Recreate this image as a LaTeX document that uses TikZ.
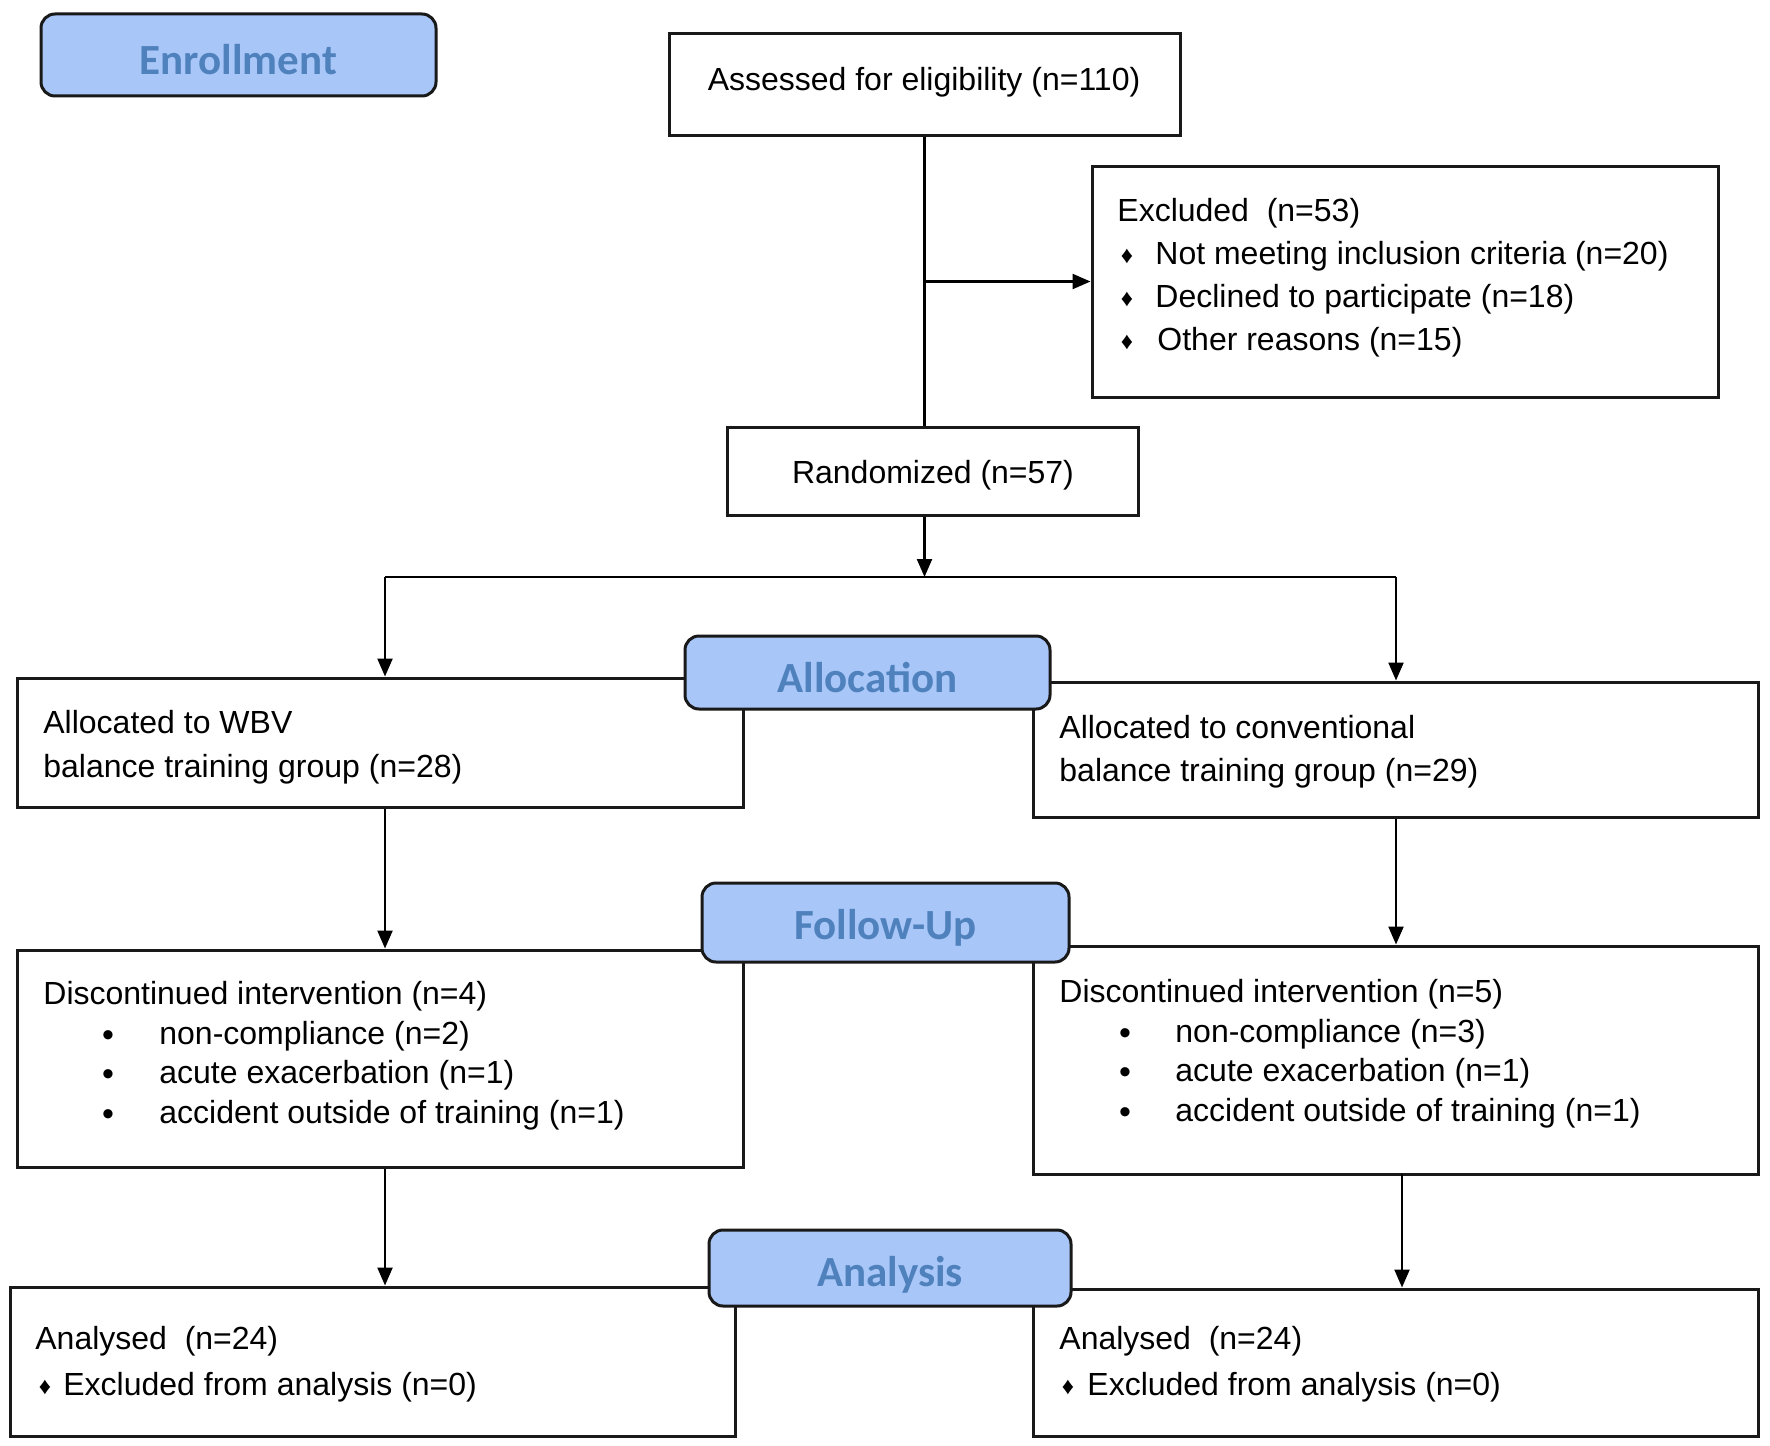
\documentclass[tikz,border=0pt]{standalone}
\usepackage{fontspec}
\setmainfont{Liberation Sans}
\newfontfamily\hdrfont{Carlito}
\usetikzlibrary{arrows.meta,fit}
\definecolor{hdrfill}{RGB}{168,198,248}
\definecolor{hdrtext}{RGB}{79,129,189}
\begin{document}
\begin{tikzpicture}[x=0.5pt,y=-0.5pt,
  box/.style={draw=black!90, line width=1.5pt, inner sep=0pt, fill=white},
  hdr/.style={draw=black!90, line width=1.5pt, inner sep=0pt, fill=hdrfill, rounded corners=7pt},
  hdrlbl/.style={inner sep=0pt, anchor=center, font=\hdrfont\bfseries\fontsize{21.5}{24}\selectfont, text=hdrtext},
  txt/.style={inner sep=0pt, anchor=west, font=\fontsize{16}{19}\selectfont, text height=0.72em, text depth=0.2em},
  ctxt/.style={txt, anchor=center},
  dia/.style={inner sep=0pt, anchor=center, font=\fontsize{12}{14}\selectfont},
  dot/.style={inner sep=0pt, anchor=center, font=\fontsize{17}{19}\selectfont},
  arr/.style={line width=1.15pt, -{Triangle[length=9pt,width=7.5pt]}},
  ln/.style={line width=1.15pt}]
\useasboundingbox (0,0) rectangle (1770,1445);
\fill[white] (0,0) rectangle (1770,1445);

% boxes
\node[box, fit={(669,34) (1180,135)}] (assess) {};
\node[box, fit={(1092,166) (1718,397)}] (excl) {};
\node[box, fit={(727,427) (1138,515)}] (rand) {};
\node[box, fit={(17,678) (743,807)}] (allocL) {};
\node[box, fit={(1033,682) (1758,817)}] (allocR) {};
\node[box, fit={(17,950) (743,1167)}] (discL) {};
\node[box, fit={(1033,946) (1758,1174)}] (discR) {};
\node[box, fit={(10,1287) (735,1436)}] (anaL) {};
\node[box, fit={(1033,1289) (1758,1436)}] (anaR) {};

% texts
\node[ctxt] (tAssess) at (924,85) {Assessed for eligibility (n=110)};
\node[txt] (tExcl) at (1117,216) {Excluded\ \ (n=53)};
\node[dia] (dE1) at (1127,256) {♦};
\node[txt] (tE1) at (1155,259) {Not meeting inclusion criteria (n=20)};
\node[dia] (dE2) at (1127,299) {♦};
\node[txt] (tE2) at (1155,302) {Declined to participate (n=18)};
\node[dia] (dE3) at (1127,342) {♦};
\node[txt] (tE3) at (1157,345) {Other reasons (n=15)};
\node[ctxt] (tRand) at (933,478) {Randomized (n=57)};

\node[txt] (tAL1) at (43,728) {Allocated to WBV};
\node[txt] (tAL2) at (43,772) {balance training group (n=28)};
\node[txt] (tAR1) at (1059,733) {Allocated to conventional};
\node[txt] (tAR2) at (1059,776) {balance training group (n=29)};

\node[txt] (tDL) at (43,999) {Discontinued intervention (n=4)};
\node[dot] (bL1) at (108,1039) {•};
\node[txt] (tDL1) at (159,1039) {non-compliance (n=2)};
\node[dot] (bL2) at (108,1078) {•};
\node[txt] (tDL2) at (159,1078) {acute exacerbation (n=1)};
\node[dot] (bL3) at (108,1118) {•};
\node[txt] (tDL3) at (159,1118) {accident outside of training (n=1)};

\node[txt] (tDR) at (1059,997) {Discontinued intervention (n=5)};
\node[dot] (bR1) at (1125,1037) {•};
\node[txt] (tDR1) at (1175,1037) {non-compliance (n=3)};
\node[dot] (bR2) at (1125,1076) {•};
\node[txt] (tDR2) at (1175,1076) {acute exacerbation (n=1)};
\node[dot] (bR3) at (1125,1116) {•};
\node[txt] (tDR3) at (1175,1116) {accident outside of training (n=1)};

\node[txt] (tNL) at (35,1344) {Analysed\ \ (n=24)};
\node[dia] (dNL) at (45,1387) {♦};
\node[txt] (tNL1) at (63,1390) {Excluded from analysis (n=0)};
\node[txt] (tNR) at (1059,1344) {Analysed\ \ (n=24)};
\node[dia] (dNR) at (1068,1387) {♦};
\node[txt] (tNR1) at (1087,1390) {Excluded from analysis (n=0)};

% connectors
\coordinate (sL) at (385,577);
\coordinate (sR) at (1396,577);
\coordinate (cR2) at (1402,1174);
\draw[ln] (assess.south) -- (assess.south |- rand.north);
\draw[arr] (assess.south |- excl.west) -- (excl.west);
\draw[arr] (assess.south |- rand.south) -- (assess.south |- sL);
\draw[ln] (sL) -- (sR);
\draw[arr] (sL) -- (sL |- allocL.north);
\draw[arr] (sR) -- (sR |- allocR.north);
\draw[arr] (sL |- allocL.south) -- (sL |- discL.north);
\draw[arr] (sR |- allocR.south) -- (sR |- discR.north);
\draw[arr] (sL |- discL.south) -- (sL |- anaL.north);
\draw[arr] (cR2) -- (cR2 |- anaR.north);

% stage headers
\node[hdr, fit={(41,14) (436,96)}] (hEnroll) {};
\node[hdrlbl] (lEnroll) at ([yshift=-2.5pt]hEnroll.center) {Enrollment};
\node[hdr, fit={(685,636) (1050,709)}] (hAlloc) {};
\node[hdrlbl] (lAlloc) at ([yshift=-2.5pt]hAlloc.center) {Allocation};
\node[hdr, fit={(702,883) (1069,962)}] (hFollow) {};
\node[hdrlbl] (lFollow) at ([yshift=-2.5pt]hFollow.center) {Follow-Up};
\node[hdr, fit={(709,1230) (1071,1306)}] (hAnalysis) {};
\node[hdrlbl] (lAnalysis) at ([yshift=-3.5pt]hAnalysis.center) {Analysis};
\end{tikzpicture}
\end{document}
